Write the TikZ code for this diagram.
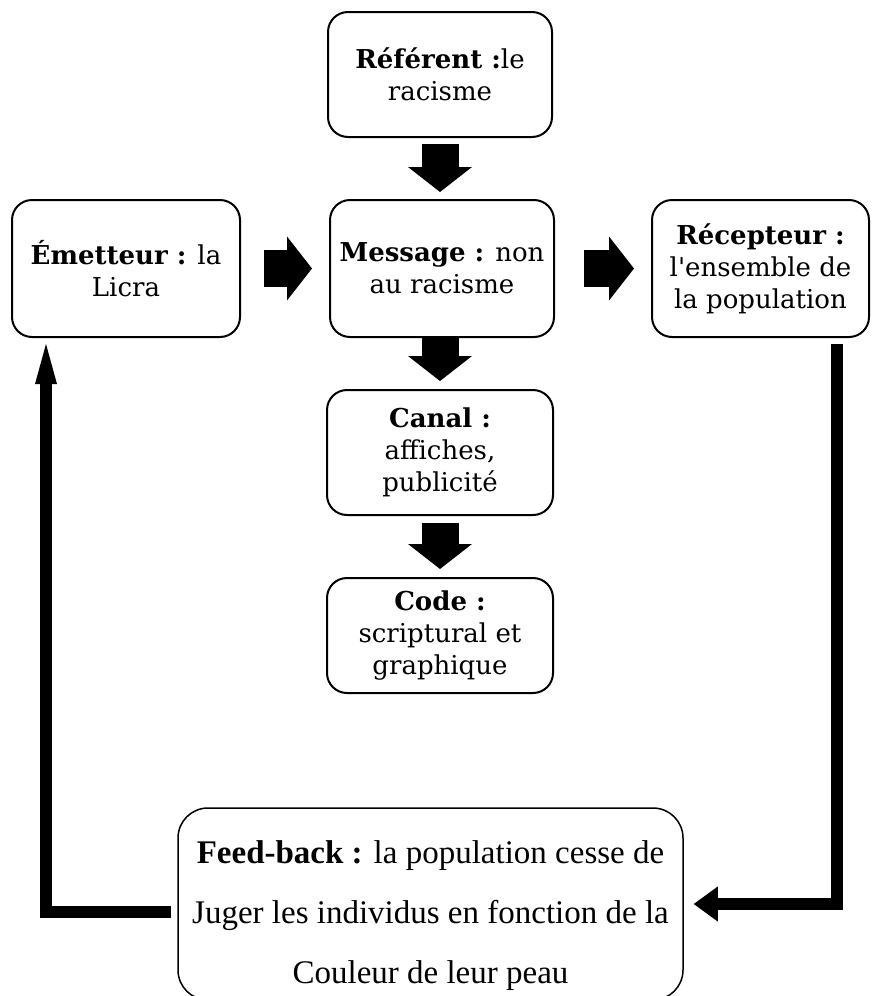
\documentclass[tikz,border=0pt]{standalone}
\usepackage{fontspec}
\setmainfont{DejaVu Serif}
\newfontfamily\fbfont{Liberation Serif}
\usetikzlibrary{arrows.meta}

\tikzset{
  stage/.style={draw, line width=2pt, rounded corners=20pt, align=center,
    font=\fontsize{26}{32}\selectfont},
  bigarrow/.style={line width=37pt, -{Triangle[length=25pt,width=64pt,line width=0pt]}},
  loopline/.style={line width=12pt},
}

\begin{document}
\begin{tikzpicture}[x=1pt, y=-1pt]
            \useasboundingbox (0,0) rectangle (872,996);

            % Draw the boxes
            \node[stage, minimum width=224pt, minimum height=125pt] (ref) at (440,74.5) {\textbf{Référent :}le\\racisme};
            \node[stage, minimum width=228pt, minimum height=137pt] (emit) at (126,268.5) {\textbf{Émetteur :} la\\Licra};
            \node[stage, minimum width=224pt, minimum height=137pt] (msg) at (442,268.5) {\textbf{Message :} non\\au racisme};
            \node[stage, minimum width=217pt, minimum height=137pt] (rec) at (760.5,268.5) {\textbf{Récepteur :}\\l\textquotesingle ensemble de\\la population};
            \node[stage, minimum width=226pt, minimum height=125pt] (canal) at (440,452.5) {\textbf{Canal :}\\affiches,\\publicité};
            \node[stage, minimum width=226pt, minimum height=115pt] (code) at (440,635.5) {\textbf{Code :}\\scriptural et\\graphique};

            % Draw the feed-back box
            \node[draw, line width=1.5pt, rounded corners=30pt, align=center,
                  minimum width=505pt, minimum height=192pt,
                  font={\fbfont\fontsize{33}{60}\selectfont}] (fb) at (430.5,904)
                  {\rule{0pt}{46pt}\textbf{Feed-back :} la population cesse de\\Juger les individus en fonction de la\\Couleur de leur peau};

            % Draw the block arrows between the boxes
            \draw[bigarrow, shorten <=6pt, shorten >=7pt] (ref.south) -- (ref.south |- msg.north);
            \draw[bigarrow, shorten <=23pt, shorten >=17pt] (emit.east) -- (msg.west);
            \draw[bigarrow, shorten <=29pt, shorten >=17pt] (msg.east) -- (rec.west);
            \draw[bigarrow, shorten <=0pt, shorten >=8pt] (msg.south -| canal.north) -- (canal.north);
            \draw[bigarrow, shorten <=7pt, shorten >=8pt] (canal.south) -- (code.north);

            % Draw the feed-back loop
            \draw[loopline, -{Triangle[length=24pt,width=35pt,line width=0pt]}]
                ([xshift=-33pt,yshift=-6pt]rec.south east) |- ([xshift=10pt]fb.east);
            \draw[loopline, -{Triangle[length=40pt,width=22pt,line width=0pt]}]
                ([xshift=-6pt,yshift=-8pt]fb.west) -| ([xshift=35pt,yshift=-6pt]emit.south west);

\end{tikzpicture}
\end{document}
